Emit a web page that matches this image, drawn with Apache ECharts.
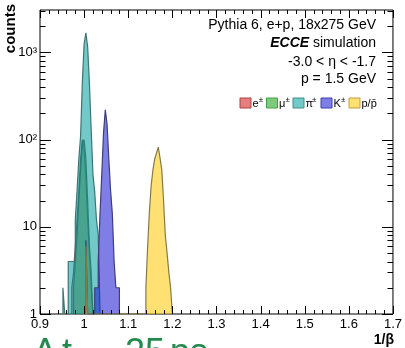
<!DOCTYPE html>
<html><head><meta charset="utf-8">
<script src="https://cdn.jsdelivr.net/npm/echarts@6/dist/echarts.min.js"></script>
<style>html,body{margin:0;padding:0;background:#fff;overflow:hidden}#c{width:405px;height:348px}</style>
</head><body><div id="c"></div>
<script>
// ---- binning of the 1/beta histograms ----
const binStart = 0.9;
const binWidth = 0.004;

// ---- counts per bin, first bin index for each ----
const eFirstBin = 18;
const eCounts = [2, 3, 6, 12, 25, 60, 100, 80, 35, 12, 5, 2];
const muFirstBin = 19;
const muCounts = [2, 4, 8, 20, 45, 90, 100, 60, 20, 6, 3];
const piFirstBin = 13;
const piCounts = [2, 1, 1, 4, 4, 4, 4, 12, 26, 60, 110, 460, 1250, 1680, 1160, 440, 130, 40, 25, 12, 8];
const kOutlierBins = [26];
const kOutlierCounts = [7];
const kFirstBin = 31;
const kCounts = [2, 2, 4, 14, 40, 120, 220, 150, 60, 26, 14, 4, 2, 2];
const pOutlierBins = [26];
const pOutlierCounts = [6];
const pFirstBin = 60;
const pCounts = [2, 6, 15, 30, 45, 60, 70, 82, 62, 45, 20, 8, 5, 3, 2];

// ---- axes ----
const xMin = 0.9, xMax = 1.7;
const yMin = 1, yMax = 3070;
const yMajorTicks = [1, 10, 100, 1000];
const yTickLabels = {1: '1', 10: '10', 100: '10²', 1000: '10³'};

// ---- text ----
const headerLines = ['Pythia 6, e+p, 18x275 GeV', '{b|ECCE} simulation', '-3.0 < η < -1.7', 'p = 1.5 GeV'];
const legendNames = ['e', 'μ', 'π', 'K', 'p/p\u0304'];
const legendSup = ['±', '±', '±', '±', ''];

const FONT = "'Liberation Sans', Arial, Helvetica, sans-serif";
const fillColors = ['rgba(205,60,60,0.40)', 'rgba(60,170,60,0.40)', 'rgba(0,155,155,0.55)', 'rgba(20,20,210,0.55)', 'rgba(255,200,0,0.55)'];
const legendFill = ['rgba(210,20,20,0.55)', 'rgba(20,160,20,0.55)', 'rgba(0,155,155,0.55)', 'rgba(20,20,210,0.55)', 'rgba(255,200,0,0.55)'];
const lineColors = ['rgba(80,70,70,0.85)', 'rgba(70,80,70,0.85)', '#3d7575', '#3e3e78', '#857a45'];
const legendLine = ['#b04040', '#40a040', '#3d9090', '#3e3eb0', '#c0a040'];

function segment(first, counts) {
  const pts = [];
  const x0 = binStart + first * binWidth;
  pts.push([x0, yMin]);
  counts.forEach((c, k) => pts.push([binStart + (first + k) * binWidth, Math.max(c, yMin)]));
  const xe = binStart + (first + counts.length) * binWidth;
  pts.push([xe, Math.max(counts[counts.length - 1], yMin)]);
  pts.push([xe, yMin]);
  return pts;
}
function histData(parts) {
  let pts = [];
  parts.sort((a, b) => a[0] - b[0]).forEach(p => { pts = pts.concat(segment(p[0], p[1])); });
  return pts;
}
const hists = [
  histData([[eFirstBin, eCounts]]),
  histData([[muFirstBin, muCounts]]),
  histData([[piFirstBin, piCounts]]),
  histData([[kOutlierBins[0], kOutlierCounts], [kFirstBin, kCounts]]),
  histData([[pOutlierBins[0], pOutlierCounts], [pFirstBin, pCounts]])
];

const series = hists.map((d, i) => ({
  type: 'line', data: d, step: 'end', showSymbol: false, symbol: 'none', silent: true,
  lineStyle: {color: lineColors[i], width: 1.2},
  areaStyle: {color: fillColors[i], opacity: 1, origin: 'start'},
  z: 2 + i
}));

series.push({
  type: 'custom', data: [[xMin, yMin]], silent: true, clip: false, z: 20,
  renderItem(params, api) {
    const ch = [];
    const bl = api.coord([xMin, yMin]);
    const tr = api.coord([xMax, yMax]);
    const left = bl[0], bottom = bl[1], right = tr[0], top = tr[1];
    const L = (x1, y1, x2, y2) => ch.push({type: 'line', shape: {x1, y1, x2, y2}, style: {stroke: '#000', lineWidth: 1}});
    for (let k = 0; k <= 40; k++) {
      const v = xMin + k * 0.02;
      const x = Math.round(api.coord([v, yMin])[0]) + 0.5;
      const len = (k % 5 === 0) ? 8 : 4;
      L(x, bottom, x, bottom - len);
      L(x, top, x, top + len);
    }
    yMajorTicks.forEach(dec => {
      for (let m = 1; m <= 9; m++) {
        const v = dec * m;
        if (v > yMax) continue;
        const y = Math.round(api.coord([xMin, v])[1]) + 0.5;
        const len = (m === 1) ? 11 : 5.5;
        L(left, y, left + len, y);
        L(right, y, right - len, y);
      }
    });
    return {type: 'group', children: ch};
  }
});

const graphic = [];
const hy = [25, 43, 62, 79];
headerLines.forEach((t, i) => {
  graphic.push({type: 'text', x: 376, y: hy[i], style: {
    text: t, fill: '#000', font: '14px ' + FONT, align: 'right', verticalAlign: 'middle',
    textAlign: 'right', textVerticalAlign: 'middle',
    rich: {b: {fontWeight: 'bold', fontStyle: 'italic', fontSize: 14, fontFamily: FONT, fill: '#000'}}
  }});
});
const legBoxX = [240, 266.5, 293, 321, 349];
legendNames.forEach((n, i) => {
  graphic.push({type: 'rect', shape: {x: legBoxX[i], y: 98, width: 11, height: 10},
    style: {fill: legendFill[i], stroke: legendLine[i], lineWidth: 1}});
  graphic.push({type: 'text', x: legBoxX[i] + 12.5, y: 103.5, style: {
    text: n, fill: '#000', font: '11px ' + FONT, align: 'left', verticalAlign: 'middle', textAlign: 'left', textVerticalAlign: 'middle'}});
  if (legendSup[i]) {
    const w = n === 'e' ? 6.2 : (n === 'K' ? 7.4 : 6.4);
    graphic.push({type: 'text', x: legBoxX[i] + 12.5 + w, y: 100, style: {
      text: legendSup[i], fill: '#000', font: '8px ' + FONT, align: 'left', verticalAlign: 'middle', textAlign: 'left', textVerticalAlign: 'middle'}});
  }
});
// axis titles
graphic.push({type: 'text', x: 11, y: 4, rotation: Math.PI / 2, style: {
  text: 'counts', fill: '#000', font: 'bold 15px ' + FONT, align: 'right', verticalAlign: 'middle', textAlign: 'right', textVerticalAlign: 'middle'}});
graphic.push({type: 'text', x: 394, y: 340, style: {
  text: '1/β', fill: '#000', font: 'bold 14px ' + FONT, align: 'right', verticalAlign: 'middle', textAlign: 'right', textVerticalAlign: 'middle'}});
// bottom green label (cut by the picture edge)
const greenParts = [['Δ', 33], ['t', 62], ['25', 125], ['ps', 170]];
greenParts.forEach(p => graphic.push({type: 'text', x: p[1], y: 336, style: {
  text: p[0], fill: '#24894d', font: '36px ' + FONT, align: 'left', verticalAlign: 'top', textAlign: 'left', textVerticalAlign: 'top'}}));

const chart = echarts.init(document.getElementById('c'), null, {renderer: 'canvas'});
chart.setOption({
  animation: false,
  backgroundColor: '#fff',
  grid: {left: 40, right: 9, top: 10, bottom: 34, show: true, borderColor: '#000', borderWidth: 1, backgroundColor: 'transparent'},
  xAxis: {type: 'value', min: xMin, max: xMax, interval: 0.1,
    axisLine: {show: false}, axisTick: {show: false}, splitLine: {show: false},
    axisLabel: {color: '#000', fontSize: 13, fontFamily: FONT, margin: 4,
      formatter: v => String(+(+v).toFixed(1))}},
  yAxis: {type: 'log', logBase: 10, min: yMin, max: yMax,
    axisLine: {show: false}, axisTick: {show: false}, splitLine: {show: false},
    axisLabel: {color: '#000', fontSize: 13, fontFamily: FONT, margin: 3, showMaxLabel: false,
      formatter: v => { const e = Math.round(Math.log10(v)); const r = Math.pow(10, e); return Math.abs(v - r) / r < 1e-6 && yTickLabels[r] ? yTickLabels[r] : ''; }}},
  series: series,
  graphic: graphic
});
</script></body></html>
